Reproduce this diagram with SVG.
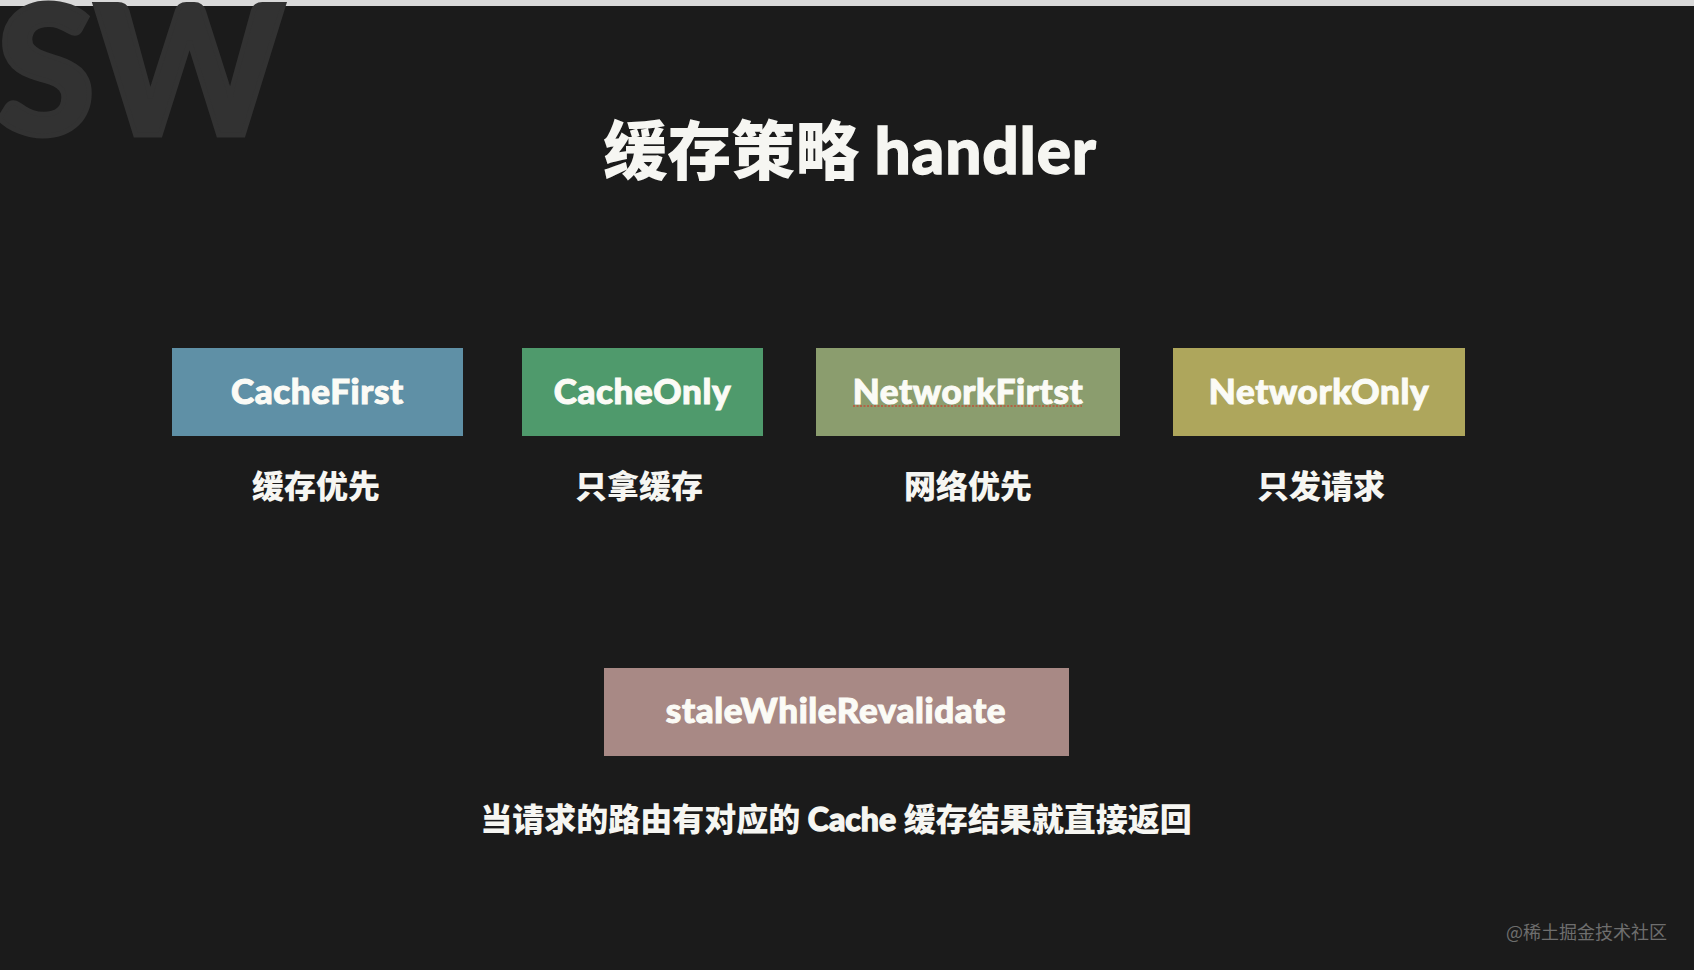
<svg xmlns="http://www.w3.org/2000/svg" width="1694" height="970" viewBox="0 0 1694 970">
<style>
.lat{font-family:Lato,"Noto Sans","Noto Sans CJK SC",sans-serif;font-weight:900;}
.cjk{font-family:Lato,"Noto Sans CJK SC",sans-serif;font-weight:900;fill:#f6f6f2;}
.heavy{stroke:#f6f6f2;stroke-width:1.3px;}
.box-label{font-family:Lato,"Noto Sans",sans-serif;font-weight:900;font-size:35px;fill:#fbfbf6;stroke:#fbfbf6;stroke-width:1px;letter-spacing:0.6px;text-anchor:middle;}
.sub{font-size:32px;text-anchor:middle;}
</style>
<rect x="0" y="0" width="1694" height="970" fill="#1b1b1b"/>
<rect x="0" y="0" width="1694" height="6" fill="#d9d9d9"/>
<text class="lat" x="-4" y="135" font-size="180" fill="#323232" stroke="#323232" stroke-width="5">SW</text>
<text class="cjk" x="850" y="174" font-size="64" text-anchor="middle">缓存策略 <tspan class="heavy" letter-spacing="0.8">handler</tspan></text>
<g id="node-cachefirst">
<rect x="172" y="348" width="291" height="88" fill="#5f90a6"/>
<text class="box-label" x="317.5" y="404">CacheFirst</text>
<text class="cjk sub" x="316" y="498">缓存优先</text>
</g>
<g id="node-cacheonly">
<rect x="522" y="348" width="241" height="88" fill="#4f9a6c"/>
<text class="box-label" x="642.5" y="404">CacheOnly</text>
<text class="cjk sub" x="639" y="498">只拿缓存</text>
</g>
<g id="node-networkfirst">
<rect x="816" y="348" width="304" height="88" fill="#8b9d6e"/>
<text class="box-label" x="968" y="404">NetworkFirtst</text>
<line x1="853" y1="406" x2="1082" y2="406" stroke="#c0503a" stroke-width="1.5" stroke-dasharray="2 1.5"/>
<text class="cjk sub" x="968" y="498">网络优先</text>
</g>
<g id="node-networkonly">
<rect x="1173" y="348" width="292" height="88" fill="#aea65c"/>
<text class="box-label" x="1319" y="404">NetworkOnly</text>
<text class="cjk sub" x="1321" y="498">只发请求</text>
</g>
<g id="node-stale">
<rect x="604" y="668" width="465" height="88" fill="#a88985"/>
<text class="box-label" x="836" y="723">staleWhileRevalidate</text>
<text class="cjk sub" x="836" y="831">当请求的路由有对应的 <tspan class="heavy" stroke-width="0.8">Cache</tspan> 缓存结果就直接返回</text>
</g>
<g id="connectors"></g>
<text x="1667" y="939" font-family="'Noto Sans CJK SC',sans-serif" font-size="18" fill="#6e6e6e" text-anchor="end">@稀土掘金技术社区</text>
</svg>
